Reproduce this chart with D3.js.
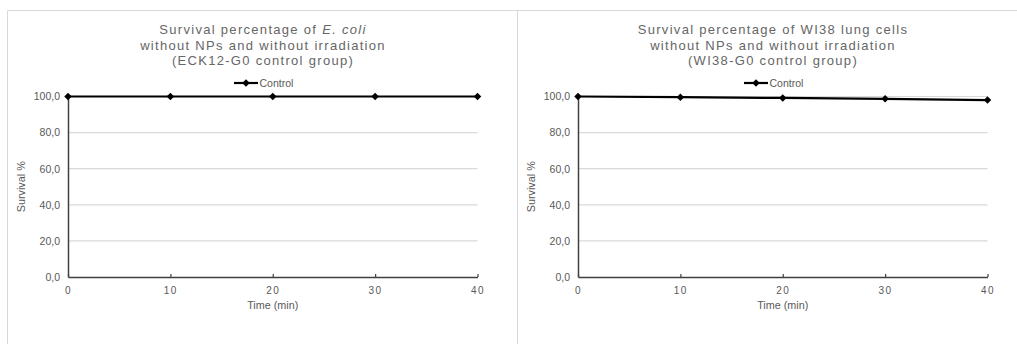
<!DOCTYPE html>
<html>
<head>
<meta charset="utf-8">
<script src="https://cdn.jsdelivr.net/npm/d3@7"></script>
<style>
  html, body { margin: 0; padding: 0; background: #fff; }
  svg { display: block; font-family: "Liberation Sans", Arial, sans-serif; }
</style>
</head>
<body>
<svg id="chart" width="1017" height="344"></svg>
<script>
// Time points (min) and survival values per panel
const times = [0, 10, 20, 30, 40];
const ecoliSurvival = [100, 100, 100, 100, 100];
const wi38Survival = [100, 99.6, 99.2, 98.7, 98.0];
const yTicks = [0, 20, 40, 60, 80, 100];
const xTicks = [0, 10, 20, 30, 40];
const seriesName = "Control";

const ecoliTitle = [
  [{ t: "Survival percentage of " }, { t: "E. coli", italic: true }],
  [{ t: "without NPs and without irradiation" }],
  [{ t: "(ECK12-G0 control group)" }]
];
const wi38Title = [
  [{ t: "Survival percentage of WI38 lung cells" }],
  [{ t: "without NPs and without irradiation" }],
  [{ t: "(WI38-G0 control group)" }]
];

const svg = d3.select("#chart");
const fmt = d => d.toFixed(1).replace(".", ",");

// Frame borders
svg.append("line").attr("x1", 7.5).attr("x2", 1017).attr("y1", 10.5).attr("y2", 10.5)
  .attr("stroke", "#d9d9d9").attr("stroke-width", 1);
svg.append("line").attr("x1", 7.5).attr("x2", 7.5).attr("y1", 10.5).attr("y2", 344)
  .attr("stroke", "#d9d9d9").attr("stroke-width", 1);
svg.append("line").attr("x1", 517.5).attr("x2", 517.5).attr("y1", 10.5).attr("y2", 344)
  .attr("stroke", "#d9d9d9").attr("stroke-width", 1);

// Square marker turned 45 degrees (diamond with equal width and height)
const marker = d3.symbol().type(d3.symbolSquare).size(28);

function drawPanel(offsetX, titleLines, values) {
  const g = svg.append("g").attr("transform", `translate(${offsetX},0)`);
  const x = d3.scaleLinear().domain([0, 40]).range([68, 477.5]);
  const y = d3.scaleLinear().domain([0, 100]).range([277, 96.5]);

  // Title
  const title = g.append("text")
    .attr("text-anchor", "middle")
    .attr("fill", "#666")
    .attr("font-size", 13)
    .attr("letter-spacing", 1.3);
  titleLines.forEach((line, i) => {
    const tl = title.append("tspan").attr("x", 263).attr("y", 34 + i * 15.5);
    line.forEach((part, j) => {
      const s = j === 0 ? tl : title.append("tspan");
      s.text(part.t);
      if (part.italic) s.attr("font-style", "italic");
    });
  });

  // Gridlines
  g.append("g").selectAll("line")
    .data(yTicks.filter(v => v > 0))
    .join("line")
    .attr("x1", x(0)).attr("x2", x(40))
    .attr("y1", d => y(d)).attr("y2", d => y(d))
    .attr("stroke", "#d9d9d9").attr("stroke-width", 1.2);

  // Y axis
  const yAxis = g.append("g").attr("transform", `translate(${x(0)},0)`)
    .call(d3.axisLeft(y).tickValues(yTicks).tickFormat(fmt).tickSize(0).tickPadding(8));
  yAxis.select(".domain").attr("stroke", "#404040").attr("stroke-width", 1.5);
  yAxis.selectAll("text").attr("fill", "#595959").attr("font-size", 10.5)
    .attr("font-family", "Liberation Sans, Arial, sans-serif");

  // X axis
  const xAxis = g.append("g").attr("transform", `translate(0,${y(0)})`)
    .call(d3.axisBottom(x).tickValues(xTicks).tickSize(0).tickPadding(10));
  xAxis.select(".domain").attr("stroke", "#404040").attr("stroke-width", 1.5);
  xAxis.selectAll("text").attr("fill", "#595959").attr("font-size", 10)
    .attr("letter-spacing", 1.5)
    .attr("font-family", "Liberation Sans, Arial, sans-serif");
  xAxis.selectAll(".tick").append("line")
    .attr("y1", 0).attr("y2", -3).attr("stroke", "#404040").attr("stroke-width", 1.2);

  // Axis titles
  g.append("text").attr("x", x(20)).attr("y", 309)
    .attr("text-anchor", "middle").attr("fill", "#595959").attr("font-size", 10.8)
    .text("Time (min)");
  g.append("text")
    .attr("transform", `translate(25,${y(50)}) rotate(-90)`)
    .attr("text-anchor", "middle").attr("fill", "#595959").attr("font-size", 10.8)
    .text("Survival %");

  // Series line and markers
  const pts = times.map((t, i) => [t, values[i]]);
  g.append("path").datum(pts)
    .attr("fill", "none").attr("stroke", "#000").attr("stroke-width", 2.2)
    .attr("d", d3.line().x(d => x(d[0])).y(d => y(d[1])));
  g.append("g").selectAll("path")
    .data(pts).join("path")
    .attr("d", marker)
    .attr("transform", d => `translate(${x(d[0])},${y(d[1])}) rotate(45)`)
    .attr("fill", "#000");

  // Legend
  const lg = g.append("g").attr("transform", "translate(234,83)");
  lg.append("line").attr("x1", 0).attr("x2", 24).attr("y1", 0).attr("y2", 0)
    .attr("stroke", "#000").attr("stroke-width", 2.2);
  lg.append("path").attr("d", marker).attr("transform", "translate(12,0) rotate(45)").attr("fill", "#000");
  lg.append("text").attr("x", 25.5).attr("y", 3.8).attr("fill", "#595959").attr("font-size", 10.5)
    .text(seriesName);
}

drawPanel(0, ecoliTitle, ecoliSurvival);
drawPanel(510, wi38Title, wi38Survival);
</script>
</body>
</html>
